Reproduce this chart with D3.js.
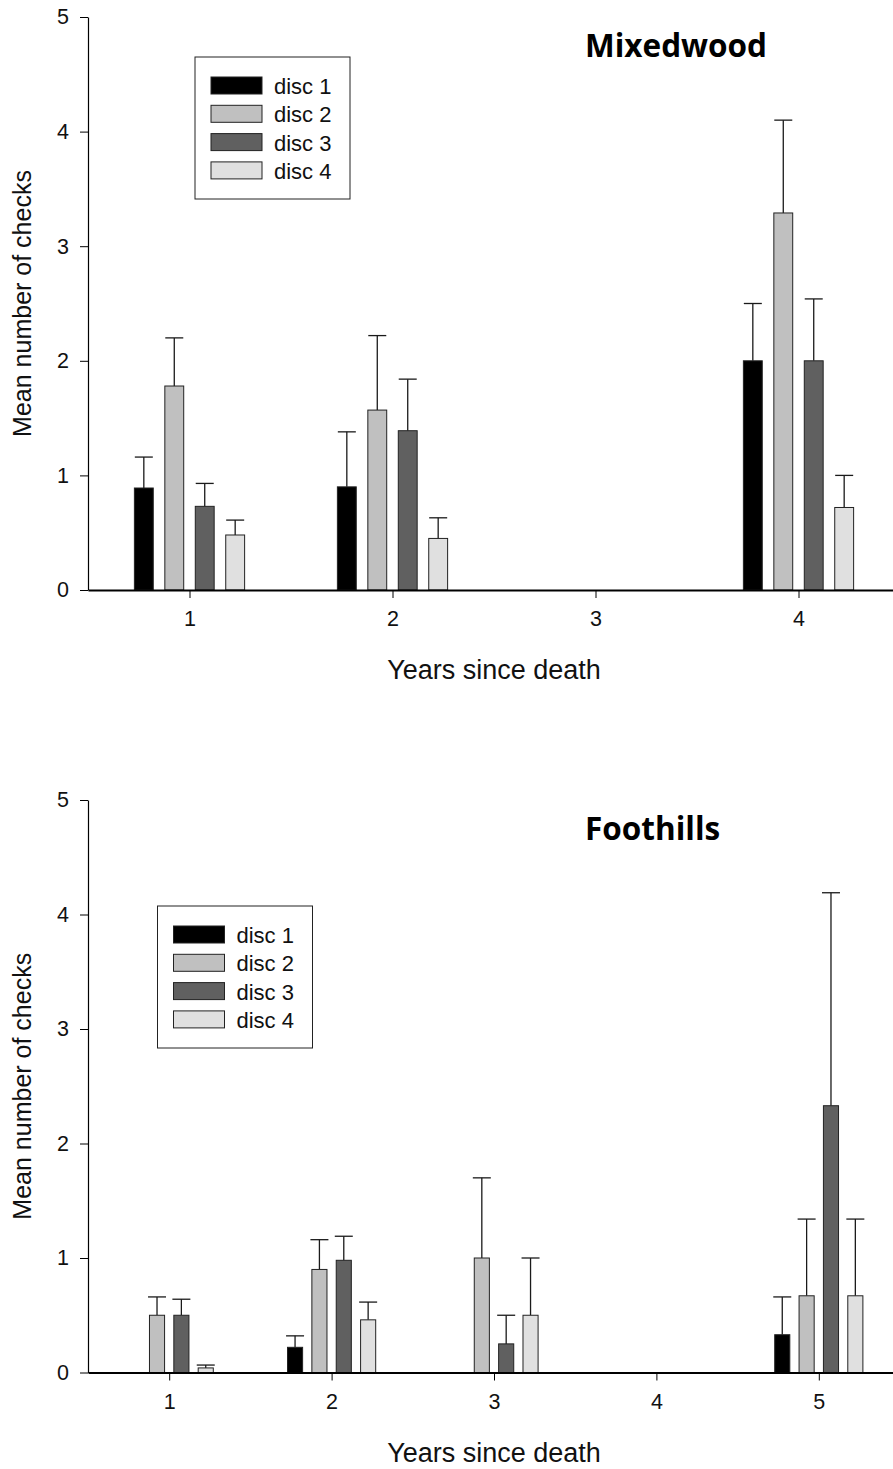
<!DOCTYPE html>
<html>
<head>
<meta charset="utf-8">
<script src="https://cdn.jsdelivr.net/npm/d3@7"></script>
<style>
  body { margin: 0; background: #fff; }
  svg { display: block; font-family: "Liberation Sans", Arial, sans-serif; }
</style>
</head>
<body>
<svg id="chart" width="893" height="1469"></svg>
<script>
// Mean number of checks per disc, by years since death
const discs = ['disc 1', 'disc 2', 'disc 3', 'disc 4'];
const discColors = ['#000000', '#c0c0c0', '#606060', '#e0e0e0'];

// Mixedwood (null = no bar)
const mixedYears = [1, 2, 3, 4];
const mixedMeans = [
  [0.89, 1.78, 0.73, 0.48],
  [0.90, 1.57, 1.39, 0.45],
  [null, null, null, null],
  [2.00, 3.29, 2.00, 0.72]
];
const mixedSE = [
  [0.27, 0.42, 0.20, 0.13],
  [0.48, 0.65, 0.45, 0.18],
  [null, null, null, null],
  [0.50, 0.81, 0.54, 0.28]
];

// Foothills
const footYears = [1, 2, 3, 4, 5];
const footMeans = [
  [null, 0.50, 0.50, 0.04],
  [0.22, 0.90, 0.98, 0.46],
  [null, 1.00, 0.25, 0.50],
  [null, null, null, null],
  [0.33, 0.67, 2.33, 0.67]
];
const footSE = [
  [null, 0.16, 0.14, 0.025],
  [0.10, 0.26, 0.21, 0.155],
  [null, 0.70, 0.25, 0.50],
  [null, null, null, null],
  [0.33, 0.67, 1.86, 0.67]
];

const yTicks = [0, 1, 2, 3, 4, 5];

const svg = d3.select('#chart');
const left = 88;
const right = 900;
const barOffset = d3.scalePoint().domain(discs).range([-0.225, 0.225]);
const barWidth = 0.093; // in x units
const capWidth = 18;

function drawPanel ({ title, years, means, se, top, bottom, legendX, legendY }) {
  const g = svg.append('g');

  const x = d3.scaleLinear()
    .domain([0.5, years.length + 0.5])
    .range([left, right]);
  const y = d3.scaleLinear()
    .domain([0, 5])
    .range([bottom, top]);

  // Flatten to one record per bar
  const bars = [];
  years.forEach((yr, i) => {
    discs.forEach((disc, j) => {
      if (means[i][j] !== null) {
        bars.push({ year: yr, disc, j, mean: means[i][j], se: se[i][j] });
      }
    });
  });

  // Error bars (upper only), drawn under the bars
  const err = g.append('g').selectAll('g')
    .data(bars)
    .join('g')
    .attr('stroke', '#1a1a1a')
    .attr('stroke-width', 1.3);
  err.append('line')
    .attr('x1', d => x(d.year + barOffset(d.disc)))
    .attr('x2', d => x(d.year + barOffset(d.disc)))
    .attr('y1', d => y(d.mean))
    .attr('y2', d => y(d.mean + d.se));
  err.append('line')
    .attr('x1', d => x(d.year + barOffset(d.disc)) - capWidth / 2)
    .attr('x2', d => x(d.year + barOffset(d.disc)) + capWidth / 2)
    .attr('y1', d => y(d.mean + d.se))
    .attr('y2', d => y(d.mean + d.se));

  g.append('g').selectAll('rect')
    .data(bars)
    .join('rect')
    .attr('x', d => x(d.year + barOffset(d.disc) - barWidth / 2))
    .attr('width', d => x(barWidth) - x(0))
    .attr('y', d => y(d.mean))
    .attr('height', d => y(0) - y(d.mean))
    .attr('fill', d => discColors[d.j])
    .attr('stroke', '#222')
    .attr('stroke-width', 1);

  // Axes
  const yAxis = g.append('g')
    .attr('transform', `translate(${left},0)`)
    .call(d3.axisLeft(y).tickValues(yTicks).tickFormat(d3.format('d'))
      .tickSize(8).tickSizeOuter(0).tickPadding(11))
    .attr('font-family', null)
    .attr('font-size', null);
  yAxis.selectAll('text').attr('font-size', 21.5).attr('fill', '#111');
  yAxis.select('.domain').attr('stroke-width', 1.2);

  const xAxis = g.append('g')
    .attr('transform', `translate(0,${bottom})`)
    .call(d3.axisBottom(x).tickValues(years).tickFormat(d3.format('d'))
      .tickSize(8).tickSizeOuter(0).tickPadding(13))
    .attr('font-family', null)
    .attr('font-size', null);
  xAxis.selectAll('text').attr('font-size', 21.5).attr('fill', '#111');
  xAxis.select('.domain').attr('stroke-width', 2);

  // Axis titles
  g.append('text')
    .attr('x', 494)
    .attr('y', bottom + 89)
    .attr('text-anchor', 'middle')
    .attr('font-size', 27)
    .attr('fill', '#111')
    .text('Years since death');
  g.append('text')
    .attr('transform', `translate(31,${(top + bottom) / 2}) rotate(-90)`)
    .attr('text-anchor', 'middle')
    .attr('font-size', 25)
    .attr('fill', '#111')
    .text('Mean number of checks');

  // Panel title
  g.append('text')
    .attr('x', 585)
    .attr('y', top + 40)
    .attr('font-family', '"Open Sans", Lato, sans-serif')
    .attr('font-weight', 'bold')
    .attr('font-size', 31.5)
    .attr('fill', '#000')
    .text(title);

  // Legend
  const legend = g.append('g').attr('transform', `translate(${legendX},${legendY})`);
  legend.append('rect')
    .attr('width', 155)
    .attr('height', 142)
    .attr('fill', '#fff')
    .attr('stroke', '#222')
    .attr('stroke-width', 1);
  const items = legend.selectAll('g.item')
    .data(discs)
    .join('g')
    .attr('class', 'item')
    .attr('transform', (d, i) => `translate(16,${20 + i * 28.3})`);
  items.append('rect')
    .attr('width', 51)
    .attr('height', 17)
    .attr('fill', (d, i) => discColors[i])
    .attr('stroke', '#222')
    .attr('stroke-width', 1);
  items.append('text')
    .attr('x', 63)
    .attr('y', 17)
    .attr('font-size', 22)
    .attr('fill', '#111')
    .text(d => d);
}

drawPanel({
  title: 'Mixedwood',
  years: mixedYears,
  means: mixedMeans,
  se: mixedSE,
  top: 17,
  bottom: 590,
  legendX: 195,
  legendY: 57
});

drawPanel({
  title: 'Foothills',
  years: footYears,
  means: footMeans,
  se: footSE,
  top: 800,
  bottom: 1372.5,
  legendX: 157.5,
  legendY: 906
});
</script>
</body>
</html>
